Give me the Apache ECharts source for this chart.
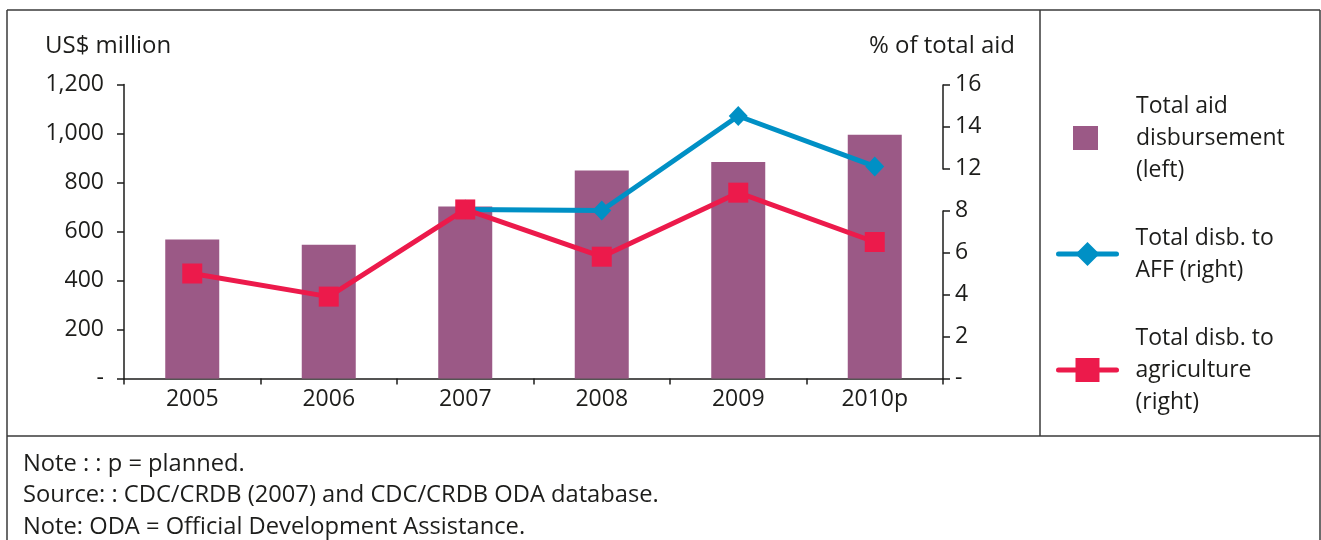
<!DOCTYPE html>
<html>
<head>
<meta charset="utf-8">
<script src="https://cdn.jsdelivr.net/npm/echarts@6/dist/echarts.min.js"></script>
<style>
  html, body { margin: 0; padding: 0; background: #fff; }
  #chart { width: 1321px; height: 540px; }
</style>
</head>
<body>
<div id="chart"></div>
<script>
// Aid disbursements, 2005-2010 (2010 planned)
const years = ['2005', '2006', '2007', '2008', '2009', '2010p'];
const totalAid = [567, 546, 702, 849, 884, 995];          // US$ million, left axis
const affShare = [null, null, 8.1, 8.0, 14.5, 12.1];       // % of total aid, right axis
const agricultureShare = [5.0, 3.9, 8.1, 5.8, 9.7, 6.5];  // % of total aid, right axis

const leftTicks = [0, 200, 400, 600, 800, 1000, 1200];
const rightTicks = [0, 2, 4, 6, 8, 12, 14, 16];

const legendNames = {
  'Total aid disbursement (left)': 'Total aid\ndisbursement\n(left)',
  'Total disb. to AFF (right)': 'Total disb. to\nAFF (right)',
  'Total disb. to agriculture (right)': 'Total disb. to\nagriculture\n(right)'
};

const notes = [
  'Note : : p = planned.',
  'Source: : CDC/CRDB (2007) and CDC/CRDB ODA database.',
  'Note: ODA = Official Development Assistance.'
];

const FONT = '"Open Sans", "Noto Sans", sans-serif';
const INK = '#1d1d1b';
const FRAME = '#3a3a3a';
const BAR = '#9b5986';
const BLUE = '#0090c5';
const RED = '#ec1a4b';

const chart = echarts.init(document.getElementById('chart'), null, { renderer: 'canvas' });

function legendBlock(name, left, top, w, h, pad, icon) {
  return {
    data: [icon ? { name: name, icon: icon } : name],
    left: left, top: top,
    orient: 'vertical',
    itemWidth: w, itemHeight: h,
    selectedMode: false,
    padding: 0,
    lineStyle: { width: 5, cap: 'round' },
    formatter: n => legendNames[n],
    textStyle: { fontFamily: FONT, fontSize: 23, lineHeight: 32, color: INK, padding: [0, 0, 0, pad] }
  };
}

const frameLine = (x1, y1, x2, y2) => ({
  type: 'line', silent: true,
  shape: { x1, y1, x2, y2 },
  style: { stroke: FRAME, lineWidth: 1.5 }
});

const graphics = [
  frameLine(7, 10, 1320, 10),
  frameLine(7, 10, 7, 540),
  frameLine(1320, 10, 1320, 540),
  frameLine(7, 436, 1320, 436),
  frameLine(1040, 10, 1040, 436),
  { type: 'text', left: 45, top: 34, style: { text: 'US$ million', font: '24px ' + FONT, fill: INK } },
  { type: 'text', right: 306, top: 34, style: { text: '% of total aid', font: '24px ' + FONT, fill: INK } }
];
notes.forEach((t, i) => {
  graphics.push({ type: 'text', left: 23, top: 452 + i * 31.5, style: { text: t, font: '23.7px ' + FONT, fill: INK } });
});

chart.setOption({
  animation: false,
  backgroundColor: '#fff',
  textStyle: { fontFamily: FONT },
  grid: { left: 124, right: 378, top: 84.5, bottom: 161.5, containLabel: false },
  legend: [
    legendBlock('Total aid disbursement (left)', 1073, 90, 25, 24, 33, 'rect'),
    legendBlock('Total disb. to AFF (right)', 1056, 222, 58, 30, 14),
    legendBlock('Total disb. to agriculture (right)', 1056, 322, 58, 30, 14)
  ],
  xAxis: {
    type: 'category',
    data: years,
    axisLine: { lineStyle: { color: INK, width: 1.5 } },
    axisTick: { show: true, length: 6, lineStyle: { color: INK, width: 1.5 } },
    axisLabel: { fontFamily: FONT, fontSize: 23, color: INK, margin: 9 }
  },
  yAxis: [
    {
      type: 'value', position: 'left',
      min: 0, max: 1200, interval: 200,
      axisLine: { show: true, lineStyle: { color: INK, width: 1.5 } },
      axisTick: { show: true, length: 7, lineStyle: { color: INK, width: 1.5 } },
      splitLine: { show: false },
      axisLabel: {
        fontFamily: FONT, fontSize: 23, color: INK, margin: 20,
        formatter: v => leftTicks.includes(v) ? (v === 0 ? '-' : v.toLocaleString('en-US')) : ''
      }
    },
    {
      type: 'value', position: 'right',
      min: 0, max: 16, interval: 2,
      // the right scale skips from 8 straight to 12 within a single step
      breaks: [{ start: 8, end: 12, gap: 2 }],
      breakArea: { show: false },
      axisLine: { show: true, lineStyle: { color: INK, width: 1.5 } },
      axisTick: { show: true, length: 7, lineStyle: { color: INK, width: 1.5 } },
      splitLine: { show: false },
      axisLabel: {
        fontFamily: FONT, fontSize: 23, color: INK, margin: 12,
        formatter: v => rightTicks.includes(v) ? (v === 0 ? '-' : String(v)) : ''
      }
    }
  ],
  series: [
    {
      name: 'Total aid disbursement (left)',
      type: 'bar',
      yAxisIndex: 0,
      data: totalAid,
      barWidth: 54,
      itemStyle: { color: BAR },
      z: 1
    },
    {
      name: 'Total disb. to AFF (right)',
      type: 'line',
      yAxisIndex: 1,
      data: affShare,
      connectNulls: false,
      symbol: 'diamond',
      symbolSize: [19, 20],
      lineStyle: { color: BLUE, width: 5 },
      itemStyle: { color: BLUE },
      z: 3
    },
    {
      name: 'Total disb. to agriculture (right)',
      type: 'line',
      yAxisIndex: 1,
      data: agricultureShare,
      symbol: 'rect',
      symbolSize: 20,
      lineStyle: { color: RED, width: 5 },
      itemStyle: { color: RED },
      z: 4
    }
  ],
  graphic: graphics
});
</script>
</body>
</html>
